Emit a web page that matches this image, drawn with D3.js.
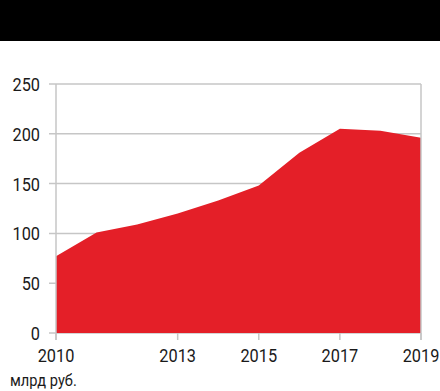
<!DOCTYPE html>
<html>
<head>
<meta charset="utf-8">
<script src="https://cdn.jsdelivr.net/npm/d3@7"></script>
<style>
  body { margin: 0; background: #fff; }
  text { font-family: "Roboto", sans-serif; fill: #1a1a1a; }
</style>
</head>
<body>
<div id="chart"></div>
<script>
// data
var years = [2010, 2011, 2012, 2013, 2014, 2015, 2016, 2017, 2018, 2019];
var values = [77, 101, 109, 120, 133, 148, 181, 205, 203, 196];
var xTicks = [2010, 2013, 2015, 2017, 2019];
var yTicks = [0, 50, 100, 150, 200, 250];
var unitLabel = "млрд руб.";

var svgWidth = 440, svgHeight = 391;
var margin = { top: 84, right: 19, bottom: 58, left: 56 };
var chartWidth = svgWidth - margin.left - margin.right;
var chartHeight = svgHeight - margin.top - margin.bottom;

// condensed look: squeeze text horizontally
var squeeze = 0.86;

var svg = d3.select("#chart").append("svg")
  .attr("width", svgWidth)
  .attr("height", svgHeight);

// black header bar
svg.append("rect")
  .attr("x", 0).attr("y", 0)
  .attr("width", svgWidth).attr("height", 41)
  .attr("fill", "#000");

var chartGroup = svg.append("g")
  .attr("transform", `translate(${margin.left}, ${margin.top})`);

var xScale = d3.scaleLinear()
  .domain([2010, 2019])
  .range([0, chartWidth]);

var yScale = d3.scaleLinear()
  .domain([0, 250])
  .range([chartHeight, 0]);

// gridlines
chartGroup.selectAll(".grid")
  .data(yTicks)
  .enter().append("line")
  .attr("x1", -7).attr("x2", chartWidth)
  .attr("y1", d => yScale(d)).attr("y2", d => yScale(d))
  .attr("stroke", "#c6c6c6").attr("stroke-width", 1.5);

// area
var area = d3.area()
  .x((d, i) => xScale(years[i]))
  .y0(yScale(0))
  .y1(d => yScale(d));

chartGroup.append("path")
  .datum(values)
  .attr("d", area)
  .attr("fill", "#e41f28");

// left and right frame lines
chartGroup.append("line")
  .attr("x1", 0).attr("x2", 0)
  .attr("y1", yScale(250)).attr("y2", chartHeight + 7)
  .attr("stroke", "#c6c6c6").attr("stroke-width", 1.5);

chartGroup.append("line")
  .attr("x1", chartWidth).attr("x2", chartWidth)
  .attr("y1", yScale(250)).attr("y2", chartHeight + 7)
  .attr("stroke", "#c6c6c6").attr("stroke-width", 1.5);

// x ticks
chartGroup.selectAll(".xtick")
  .data(xTicks)
  .enter().append("line")
  .attr("x1", d => xScale(d)).attr("x2", d => xScale(d))
  .attr("y1", chartHeight).attr("y2", chartHeight + 7)
  .attr("stroke", "#c6c6c6").attr("stroke-width", 1.5);

chartGroup.selectAll(".xlabel")
  .data(xTicks)
  .enter().append("text")
  .attr("transform", d => `translate(${xScale(d)}, ${chartHeight + 29}) scale(${squeeze}, 1)`)
  .attr("text-anchor", "middle")
  .style("font-size", "19px")
  .text(d => d);

chartGroup.selectAll(".ylabel")
  .data(yTicks)
  .enter().append("text")
  .attr("transform", d => `translate(-16, ${yScale(d) + 7}) scale(${squeeze}, 1)`)
  .attr("text-anchor", "end")
  .style("font-size", "19px")
  .text(d => d);

svg.append("text")
  .attr("transform", `translate(10, 386) scale(${squeeze}, 1)`)
  .style("font-size", "17px")
  .text(unitLabel);
</script>
</body>
</html>
